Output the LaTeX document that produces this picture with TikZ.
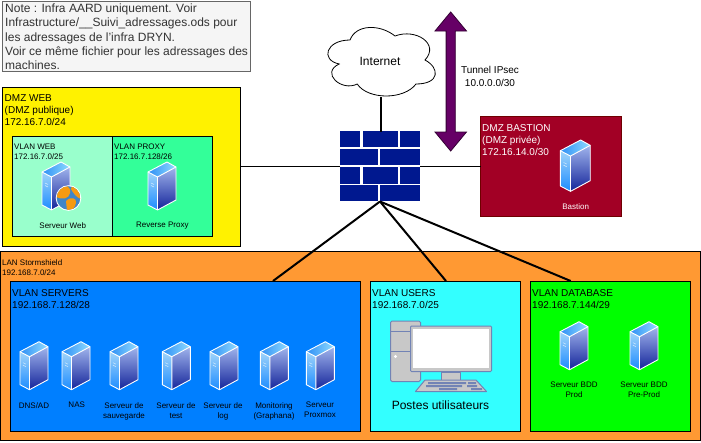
\documentclass[tikz,border=0pt]{standalone}
\usepackage{fontspec}
\setmainfont{Liberation Sans}
\definecolor{orangeLan}{HTML}{FF9933}
\definecolor{vlanBlue}{HTML}{007FFF}
\definecolor{vlanCyan}{HTML}{33FFFF}
\definecolor{vlanGreen}{HTML}{00FF00}
\definecolor{vlanWeb}{HTML}{99FFCC}
\definecolor{vlanProxy}{HTML}{33FF99}
\definecolor{bastionRed}{HTML}{A20025}
\definecolor{bastionEdge}{HTML}{6F0000}
\definecolor{noteFill}{HTML}{F5F5F5}
\definecolor{noteEdge}{HTML}{666666}
\definecolor{noteText}{HTML}{333333}
\definecolor{brick}{HTML}{00188F}
\definecolor{tunnel}{HTML}{660066}
\definecolor{tunnelEdge}{HTML}{330033}
\definecolor{pcEdge}{HTML}{7283B5}
\definecolor{pcFill}{HTML}{C8C8C8}
\definecolor{srvTopA}{HTML}{8FDCFF}
\definecolor{srvTopB}{HTML}{2F8FF5}
\definecolor{srvLeftA}{HTML}{A0D4FA}
\definecolor{srvLeftB}{HTML}{1C8CFF}
\definecolor{srvRightA}{HTML}{A0B4EC}
\definecolor{srvRightB}{HTML}{14249A}
\definecolor{globeOrange}{HTML}{F59A12}
\definecolor{globeBlue}{HTML}{3F86C8}
\tikzset{
  zone/.style={draw=black,line width=1pt,minimum width=#1,anchor=north west,inner sep=0pt,outer sep=0pt},
  blocktext/.style={inner sep=0pt,anchor=north west,align=left},
  txtsmall/.style={blocktext,font=\fontsize{8}{10}\selectfont},
  txtmid/.style={blocktext,font=\fontsize{10}{12}\selectfont},
  caption/.style={inner sep=0pt,anchor=north,align=center,font=\fontsize{8}{10}\selectfont},
  link/.style={draw=black,line width=2pt},
  thinlink/.style={draw=black,line width=1pt},
  brickfill/.style={fill=brick,draw=none},
  serverpic/.pic={
    \shade[left color=srvTopB,right color=srvTopA] (0,10)--(19,0)--(28,5)--(9.5,15)--cycle;
    \shade[top color=srvLeftA,bottom color=srvLeftB] (0,10)--(9.5,15)--(9.5,48)--(0,43)--cycle;
    \shade[top color=srvRightA,bottom color=srvRightB] (9.5,15)--(28,5)--(28,38)--(9.5,48)--cycle;
    \draw[white,line width=0.9pt,line join=round] (0,10)--(19,0)--(28,5)--(28,38)--(9.5,48)--(0,43)--cycle;
    \draw[white,line width=0.9pt,line join=round] (0,10)--(9.5,15)--(28,5) (9.5,15)--(9.5,48);
    \draw[white!60!srvLeftA,line width=0.5pt] (3,21)--(6,22.5) (3,23.5)--(6,25);
  }
}
\begin{document}
\begin{tikzpicture}[x=1pt,y=-1pt]
\useasboundingbox (0,0) rectangle (701,442);
% note
\node[draw=noteEdge,fill=noteFill,line width=1pt,minimum width=248pt,minimum height=70pt,anchor=north west,inner sep=0pt,outer sep=0pt] (notebox) at (2.5,1.5) {};
\node[blocktext,text=noteText,font=\fontsize{12}{14.3}\selectfont] (notetext) at (5,3.6) {Note : Infra AARD uniquement. Voir\\Infrastructure/\_\_Suivi\_adressages.ods pour\\les adressages de l'infra DRYN.\\Voir ce même fichier pour les adressages des\\machines.};
% DMZ web
\node[zone=238pt,fill=yellow,minimum height=159pt] (dmzweb) at (2.5,87) {};
\node[zone=100pt,fill=vlanWeb,minimum height=100pt] (vlanweb) at (12.5,136.5) {};
\node[zone=100pt,fill=vlanProxy,minimum height=100pt] (vlanproxy) at (112.5,136.5) {};
\node[txtmid] (dmzwebtext) at (4.5,94.5) {DMZ WEB\\(DMZ publique)\\172.16.7.0/24};
\node[txtsmall] (vlanwebtext) at (14,144) {VLAN WEB\\172.16.7.0/25};
\node[txtsmall] (vlanproxytext) at (114,144) {VLAN PROXY\\172.16.7.128/26};
\pic at (42,162) {serverpic};
\pic at (148,162) {serverpic};
% globe
\fill[white] (68.5,198) circle (12.8);
\begin{scope}
\clip (68.5,198) circle (11.8);
\fill[globeBlue] (68.5,198) circle (11.8);
\fill[globeOrange] (58,186) .. controls (66,183) and (72,188) .. (70,193) .. controls (69,199) and (62,200) .. (56,197) -- cycle;
\fill[globeOrange] (66,201) .. controls (71,196) and (77,198) .. (76,203) .. controls (75,208) and (71,212) .. (67,211) -- cycle;
\fill[globeOrange] (72,186) .. controls (78,187) and (82,193) .. (81,199) .. controls (77,198) and (73,193) .. (71,189) -- cycle;
\end{scope}
\node[caption] (lblweb) at (62.7,222) {Serveur Web};
\node[caption] (lblproxy) at (162.3,222) {Reverse Proxy};
% bastion
\node[draw=bastionEdge,fill=bastionRed,line width=1pt,minimum width=141pt,minimum height=100pt,anchor=north west,inner sep=0pt,outer sep=0pt] (bastion) at (480.5,116.5) {};
\node[txtmid,text=white] (bastiontext) at (482,124.5) {DMZ BASTION\\(DMZ privée)\\172.16.14.0/30};
\pic[scale=1.07] at (560.3,140) {serverpic};
\node[caption,text=white] (lblbastion) at (575.7,203.5) {Bastion};
% LAN
\node[zone=699.5pt,fill=orangeLan,minimum height=189pt] (lan) at (0.5,251) {};
\node[txtsmall] (lantext) at (2,259) {LAN Stormshield\\192.168.7.0/24};
\node[zone=350pt,fill=vlanBlue,minimum height=150pt] (servers) at (10.5,281.5) {};
\node[zone=150pt,fill=vlanCyan,minimum height=150pt] (users) at (370.5,281.5) {};
\node[zone=160pt,fill=vlanGreen,minimum height=150pt] (database) at (530.5,281.5) {};
\node[txtmid] (serverstext) at (12,289.5) {VLAN SERVERS\\192.168.7.128/28};
\node[txtmid] (userstext) at (372,289.5) {VLAN USERS\\192.168.7.0/25};
\node[txtmid] (databasetext) at (532,289.5) {VLAN DATABASE\\192.168.7.144/29};
\foreach \px in {20,62,110,162.3,210,260.3,306.3} \pic at (\px,341.7) {serverpic};
\node[caption] (s1) at (34,402) {DNS/AD};
\node[caption] (s2) at (76.7,402) {NAS};
\node[caption] (s3) at (124,402) {Serveur de\\sauvegarde};
\node[caption] (s4) at (176,402) {Serveur de\\test};
\node[caption] (s5) at (223,402) {Serveur de\\log};
\node[caption] (s6) at (274,402) {Monitoring\\(Graphana)};
\node[caption] (s7) at (320,402) {Serveur\\Proxmox};
\pic at (560,321.7) {serverpic};
\pic at (630,321.7) {serverpic};
\node[caption] (d1) at (574,382) {Serveur BDD\\Prod};
\node[caption] (d2) at (644,382) {Serveur BDD\\Pre-Prod};
% PC
\begin{scope}[draw=pcEdge,line width=1pt,line join=round]
\filldraw[fill=pcFill,rounded corners=1.5pt] (390.5,321) rectangle (420.5,381.5);
\draw (390.5,331) -- (420.5,331) (390.5,351.5) -- (420.5,351.5);
\fill[white] (395.5,356.5) circle (1.7);
\filldraw[fill=pcFill] (441,372) rectangle (460.5,380);
\filldraw[fill=pcFill,rounded corners=1pt] (410.5,326) rectangle (491.5,371.5);
\fill[white] (413,328.5) rectangle (488.5,368);
\filldraw[fill=pcFill] (425,380) -- (476,380) -- (486.5,391.5) -- (415.5,391.5) -- cycle;
\end{scope}
\fill[pcEdge] (428,382) rectangle (466,384) (468,382) rectangle (476,384)
  (426,385) rectangle (462,387.2) (467,385) rectangle (477,387.2)
  (439,388.2) rectangle (457,390) (471,388.2) rectangle (482,390);
\node[blocktext,anchor=north,font=\fontsize{12}{14}\selectfont] (lblpc) at (440.5,400.5) {Postes utilisateurs};
% firewall
\node[minimum width=80pt,minimum height=70pt,inner sep=0pt,outer sep=0pt] (fw) at (380,166.5) {};
\foreach \yy in {131,167.4} {
  \fill[brickfill] (340,\yy) rectangle (360,\yy+16.2);
  \fill[brickfill] (362.7,\yy) rectangle (397.7,\yy+16.2);
  \fill[brickfill] (400,\yy) rectangle (420,\yy+16.2);
}
\foreach \yy in {149.4,185.4} {
  \fill[brickfill] (340,\yy) rectangle (378.3,\yy+16);
  \fill[brickfill] (380.3,\yy) rectangle (420,\yy+16);
}
% cloud
\filldraw[fill=white,draw=black,line width=0.8pt]
  (350,40) .. controls (326,40) and (320,60) .. (339.2,64)
  .. controls (320,72.8) and (341.6,92) .. (357.2,84)
  .. controls (368,100) and (404,100) .. (416,84)
  .. controls (440,84) and (440,68) .. (425,60)
  .. controls (440,44) and (416,28) .. (395,36)
  .. controls (380,24) and (356,24) .. (350,40) -- cycle;
\node[inner sep=0pt,outer sep=0pt,minimum width=109pt,minimum height=69pt] (internet) at (380.5,62.5) {};
\node[inner sep=0pt,font=\fontsize{12}{14}\selectfont] (internettext) at (380,61) {Internet};
% tunnel arrow
\filldraw[fill=tunnel,draw=tunnelEdge,line width=0.8pt,line join=miter]
  (450.7,12) -- (466.5,31) -- (455.3,31) -- (455.3,132) -- (466.5,132) -- (450.7,151) -- (435,132) -- (446.1,132) -- (446.1,31) -- (435,31) -- cycle;
\node[caption,font=\fontsize{10}{13}\selectfont] (tunnellbl) at (490,66.5) {Tunnel IPsec\\10.0.0.0/30};
% connectors
\coordinate (servin) at (273,281);
\coordinate (userin) at (446,281);
\coordinate (dbin) at (570.7,281);
\draw[link] (internet.south) -- (internet.south |- fw.north);
\draw[thinlink] (dmzweb.east |- fw.west) -- (fw.west);
\draw[thinlink] (fw.east) -- (bastion.west |- fw.east);
\draw[link] (fw.south) -- (servin);
\draw[link] (fw.south) -- (userin);
\draw[link] (fw.south) -- (dbin);
\end{tikzpicture}
\end{document}
